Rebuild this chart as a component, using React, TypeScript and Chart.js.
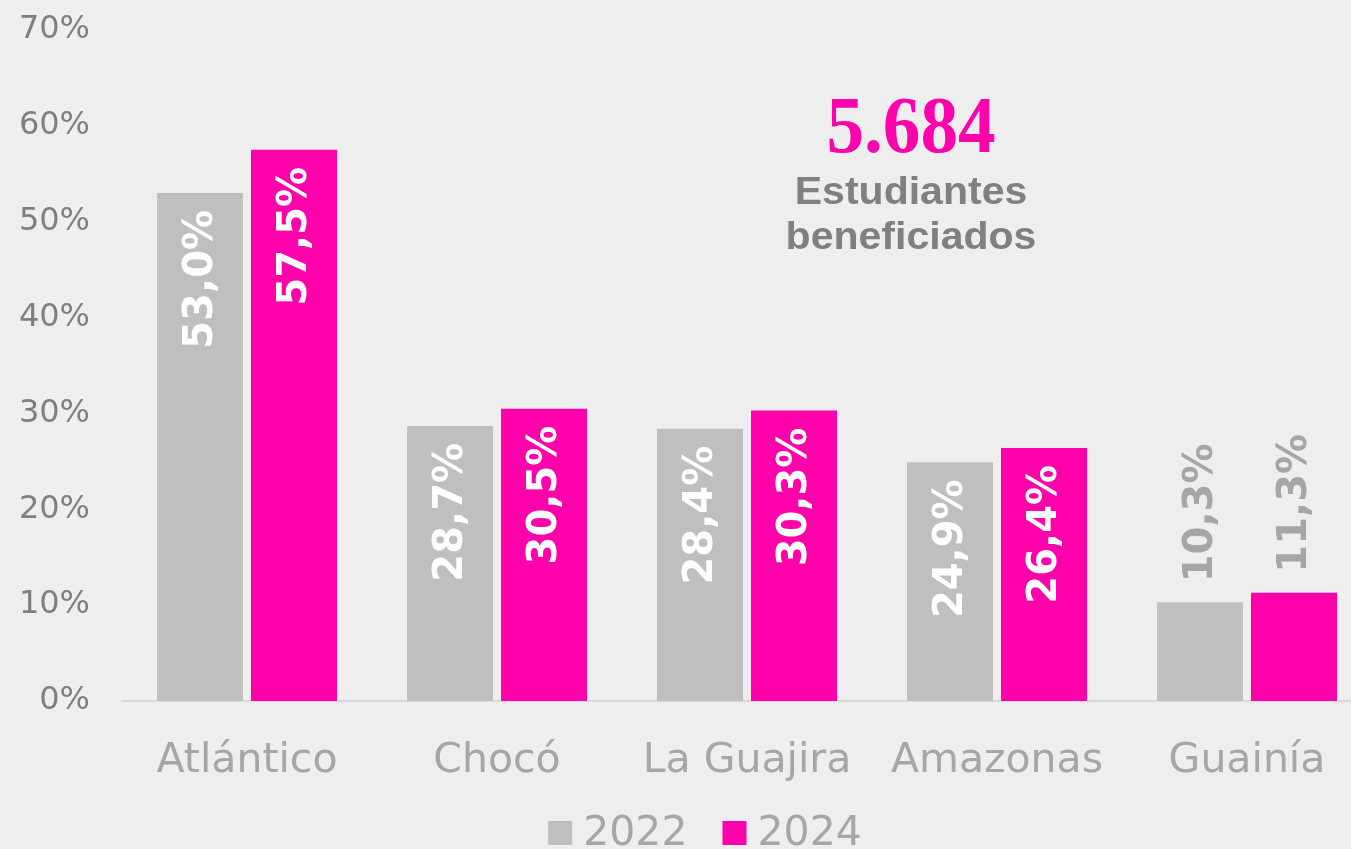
import React, { useEffect, useRef } from "react";
import { Chart, registerables } from "chart.js";

Chart.register(...registerables);

const categories = ["Atlántico", "Chocó", "La Guajira", "Amazonas", "Guainía"];
const seriesLabels = ["2022", "2024"];
const values2022 = [53.0, 28.7, 28.4, 24.9, 10.3];
const values2024 = [57.5, 30.5, 30.3, 26.4, 11.3];
const seriesColors = ["#bfbfbf", "#ff00aa"];
const yMin = 0;
const yMax = 70;
const yStep = 10;
const headline = "5.684";
const subtitleLines = ["Estudiantes", "beneficiados"];

const fmt = (v: number) => v.toFixed(1).replace(".", ",") + "%";

const labelPlugin = {
  id: "customLabels",
  afterDatasetsDraw(chart: any) {
    const ctx = chart.ctx;
    ctx.save();
    ctx.font = "bold 40px 'DejaVu Sans'";
    ctx.textBaseline = "middle";
    chart.data.datasets.forEach((ds: any, di: number) => {
      const meta = chart.getDatasetMeta(di);
      meta.data.forEach((bar: any, i: number) => {
        const text = fmt(ds.data[i]);
        const w = ctx.measureText(text).width;
        const h = bar.base - bar.y;
        const pad = 17;
        ctx.save();
        if (w + 2 * pad < h) {
          ctx.translate(bar.x, bar.y + pad);
          ctx.rotate(-Math.PI / 2);
          ctx.textAlign = "right";
          ctx.fillStyle = "#ffffff";
        } else {
          ctx.translate(bar.x, bar.y - 20);
          ctx.rotate(-Math.PI / 2);
          ctx.textAlign = "left";
          ctx.fillStyle = "#a6a6a6";
        }
        ctx.fillText(text, 0, 2);
        ctx.restore();
      });
    });
    ctx.restore();
  },
  afterDraw(chart: any) {
    const ctx = chart.ctx;
    ctx.save();
    const cx = 911;
    ctx.textAlign = "center";
    ctx.textBaseline = "alphabetic";
    ctx.fillStyle = "#ff00aa";
    ctx.font = "bold 80px 'Liberation Serif'";
    ctx.save();
    ctx.translate(cx, 152);
    ctx.scale(0.94, 1);
    ctx.fillText(headline, 0, 0);
    ctx.restore();
    ctx.fillStyle = "#808080";
    ctx.font = "bold 38px 'Liberation Sans'";
    subtitleLines.forEach((line, i) => {
      ctx.save();
      ctx.translate(cx, 204 + i * 45);
      ctx.scale(1.08, 1);
      ctx.fillText(line, 0, 0);
      ctx.restore();
    });
    ctx.font = "41px 'DejaVu Sans'";
    ctx.textAlign = "left";
    const box = 24;
    const gapText = 11;
    const gapItem = 35;
    const widths = chart.data.datasets.map(
      (ds: any) => box + gapText + ctx.measureText(ds.label).width
    );
    const total = widths.reduce((a: number, b: number) => a + b, 0) + gapItem * (widths.length - 1);
    let x = 705 - total / 2;
    const baseY = 845;
    chart.data.datasets.forEach((ds: any, i: number) => {
      ctx.fillStyle = ds.backgroundColor;
      ctx.fillRect(x, baseY - box, box, box);
      ctx.fillStyle = "#a6a6a6";
      ctx.fillText(ds.label, x + box + gapText, baseY);
      x += widths[i] + gapItem;
    });
    ctx.restore();
  },
};

export default function App() {
  const ref = useRef<HTMLCanvasElement>(null);
  useEffect(() => {
    if (!ref.current) return;
    const chart = new Chart(ref.current, {
      type: "bar",
      data: {
        labels: categories,
        datasets: [
          { label: seriesLabels[0], data: values2022, backgroundColor: seriesColors[0], barPercentage: 0.915, categoryPercentage: 0.752 },
          { label: seriesLabels[1], data: values2024, backgroundColor: seriesColors[1], barPercentage: 0.915, categoryPercentage: 0.752 },
        ],
      },
      options: {
        responsive: false,
        animation: false,
        layout: { padding: { top: 30, left: 0, right: 0, bottom: 0 } },
        plugins: { legend: { display: false }, tooltip: { enabled: false } },
        scales: {
          x: {
            grid: { display: false, drawTicks: false },
            border: { display: true, color: "#d9d9d9", width: 2 },
            ticks: { color: "#a6a6a6", font: { family: "'DejaVu Sans'", size: 41 }, padding: 36, maxRotation: 0 },
            afterFit: (s: any) => { s.height = 148; },
          },
          y: {
            min: yMin,
            max: yMax,
            grid: { display: false, drawTicks: false },
            border: { display: false },
            ticks: {
              stepSize: yStep,
              color: "#7f7f7f",
              font: { family: "'DejaVu Sans'", size: 32 },
              padding: 32,
              callback: (v: any) => v + "%",
            },
            afterFit: (s: any) => {
              s.width = 122;
              s.paddingTop = 0;
              s.paddingBottom = 0;
            },
          },
        },
      },
      plugins: [labelPlugin],
    });
    return () => chart.destroy();
  }, []);
  return (
    <div style={{ position: "absolute", left: 0, top: 0, width: 1351, height: 849, overflow: "hidden", background: "#eeeeef" }}>
      <canvas ref={ref} width={1372} height={849} style={{ display: "block" }} />
    </div>
  );
}
